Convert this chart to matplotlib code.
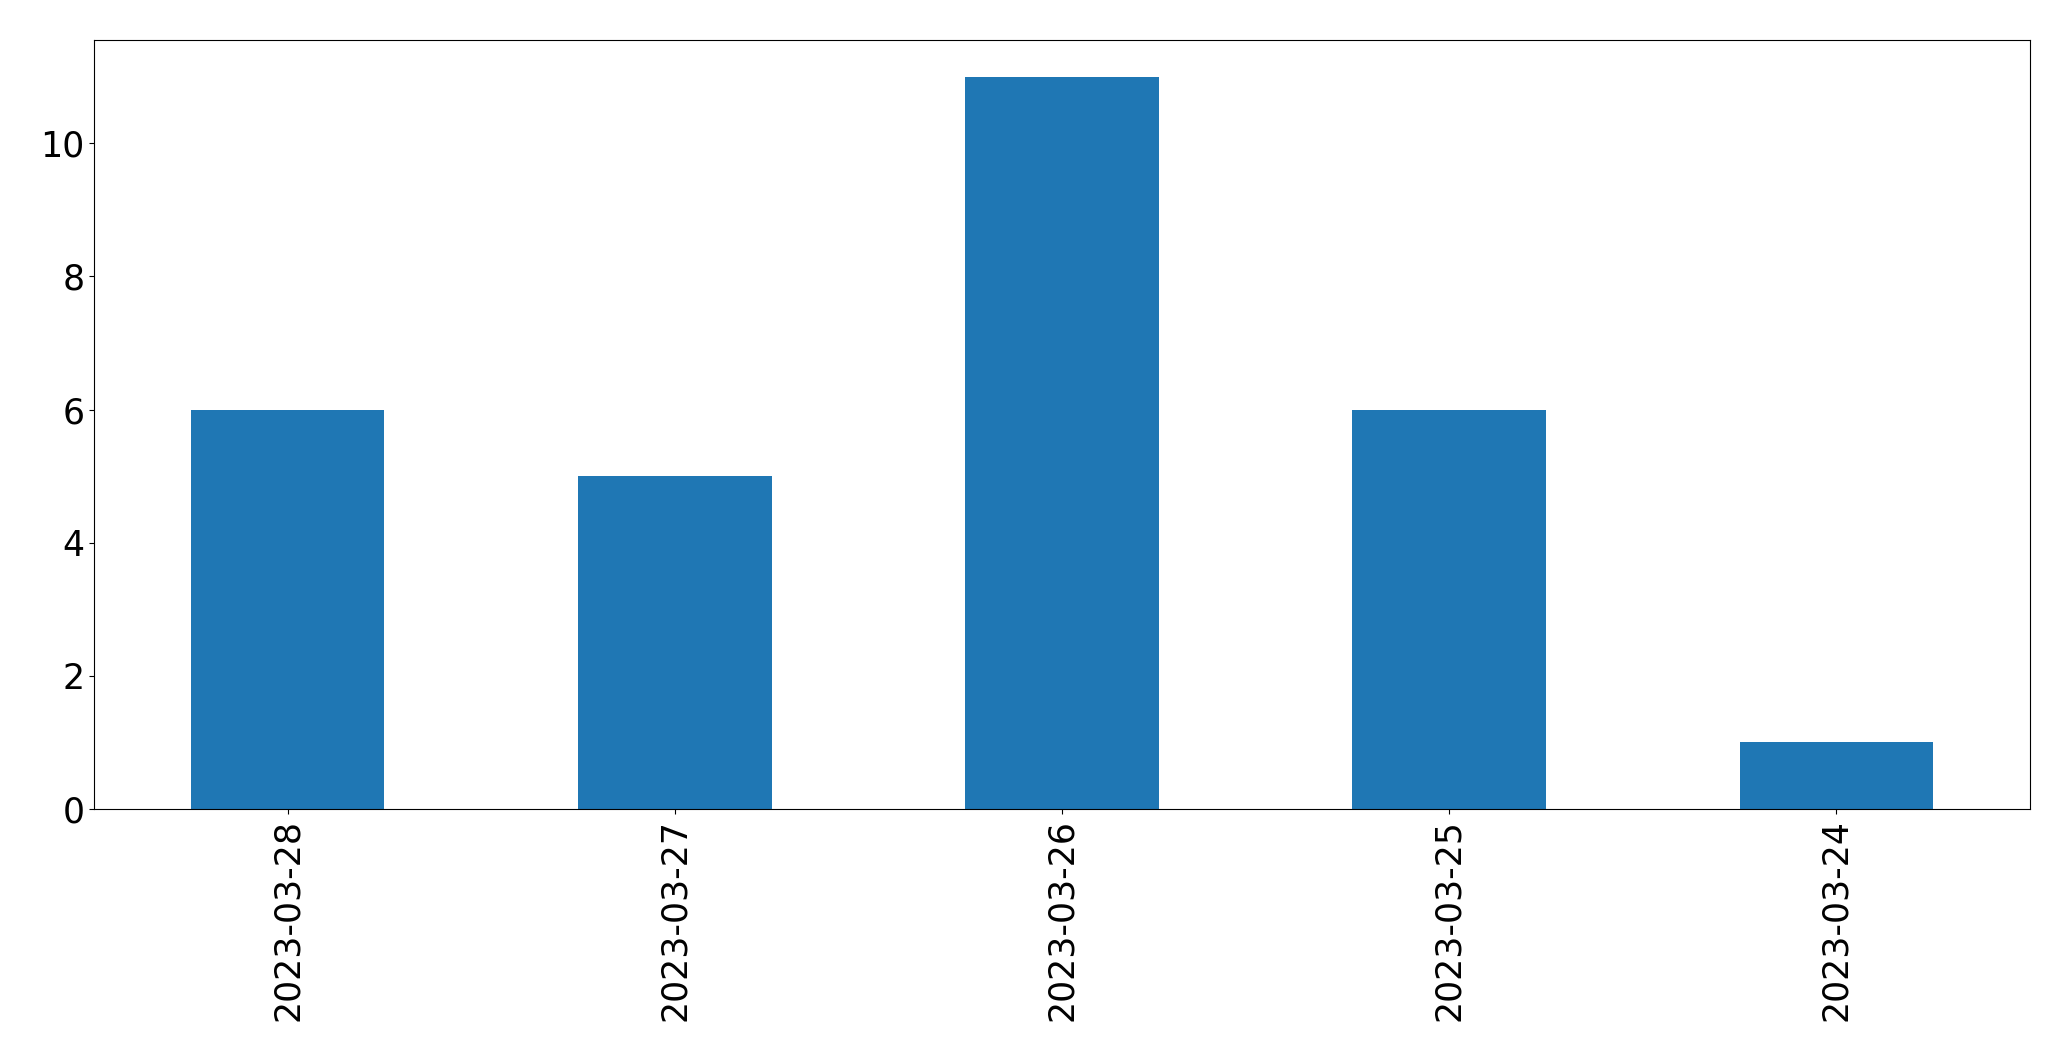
import matplotlib
matplotlib.use("Agg")
import matplotlib.pyplot as plt

dates = ["2023-03-28", "2023-03-27", "2023-03-26", "2023-03-25", "2023-03-24"]
counts = [6, 5, 11, 6, 1]

fig = plt.figure(figsize=(20.71, 10.61), dpi=100)
ax = fig.add_axes([94 / 2071, 1 - 809 / 1061, (2030 - 94) / 2071, (809 - 40) / 1061])
x = range(len(dates))
ax.bar(x, counts, width=0.5, color="#1f77b4")
ax.set_xlim(-0.5, len(dates) - 0.5)
ax.set_xticks(list(x))
ax.set_xticklabels(dates, rotation=90)
ax.tick_params(labelsize=25)
fig.savefig("out.png", dpi=100)
